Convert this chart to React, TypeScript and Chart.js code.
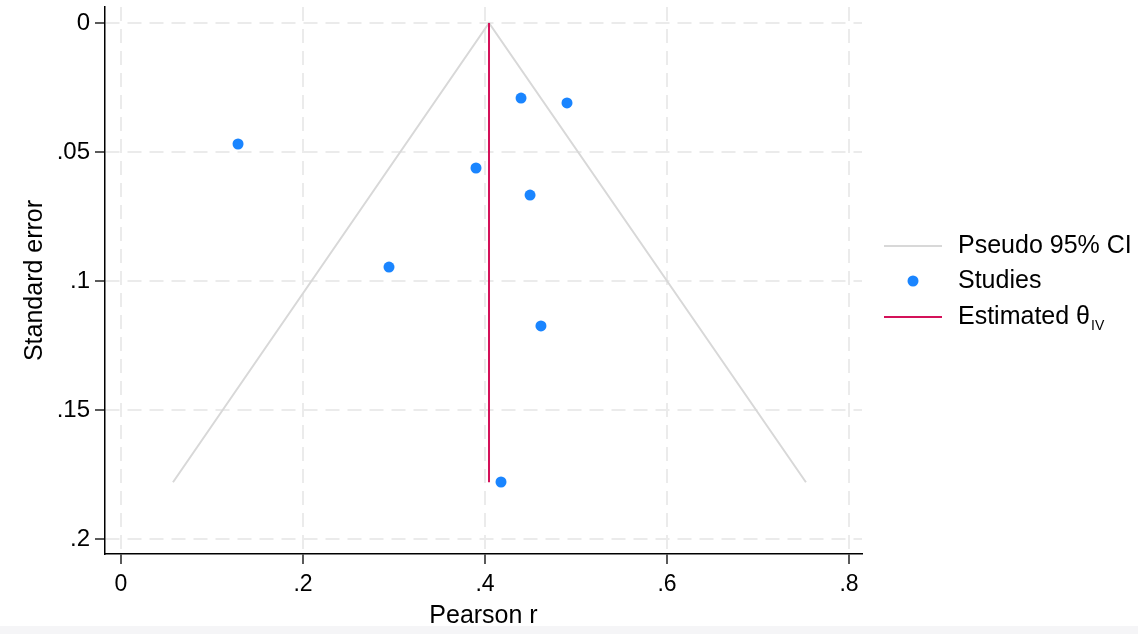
import React, { useEffect, useRef } from "react";
import { Chart, registerables } from "chart.js";
Chart.register(...registerables);

// ---- data ----
const studyR = [0.1286, 0.4396, 0.4901, 0.3901, 0.4495, 0.2945, 0.4615, 0.4176];
const studySE = [0.0469, 0.0291, 0.031, 0.0562, 0.0667, 0.0946, 0.1174, 0.1779];
const funnelR = [0.0571, 0.4044, 0.7527];
const funnelSE = [0.178, 0, 0.178];
const estimateR = [0.4044, 0.4044];
const estimateSE = [0, 0.178];
const xTicks = [0, 0.2, 0.4, 0.6, 0.8];
const xTickLabels = ["0", ".2", ".4", ".6", ".8"];
const yTicks = [0, 0.05, 0.1, 0.15, 0.2];
const yTickLabels = ["0", ".05", ".1", ".15", ".2"];
const legendLabels = ["Pseudo 95% CI", "Studies", "Estimated θ"];
const legendSub = "IV";
const xTitle = "Pearson r";
const yTitle = "Standard error";

const BLUE = "#1a85ff";
const RED = "#d41159";
const GRAY = "#d8d8d8";
const GRID = "#ebebeb";
const FONT = "'Liberation Sans', Arial, Helvetica, sans-serif";

const zip = (xs: number[], ys: number[]) => xs.map((x, i) => ({ x, y: ys[i] }));

const legendPlugin = {
  id: "stataLegend",
  afterDraw(chart: any) {
    const ctx = chart.ctx;
    ctx.save();
    const x0 = 884, x1 = 942, tx = 958;
    const rows = [246, 281, 317];
    ctx.font = `25px ${FONT}`;
    ctx.fillStyle = "#000";
    ctx.textBaseline = "middle";
    ctx.textAlign = "left";
    ctx.strokeStyle = GRAY;
    ctx.lineWidth = 2;
    ctx.beginPath();
    ctx.moveTo(x0, rows[0]);
    ctx.lineTo(x1, rows[0]);
    ctx.stroke();
    ctx.fillStyle = BLUE;
    ctx.beginPath();
    ctx.arc((x0 + x1) / 2, rows[1], 5.5, 0, Math.PI * 2);
    ctx.fill();
    ctx.strokeStyle = RED;
    ctx.lineWidth = 2;
    ctx.beginPath();
    ctx.moveTo(x0, rows[2]);
    ctx.lineTo(x1, rows[2]);
    ctx.stroke();
    ctx.fillStyle = "#000";
    legendLabels.forEach((t, i) => ctx.fillText(t, tx, rows[i]));
    const w = ctx.measureText(legendLabels[2]).width;
    ctx.font = `14px ${FONT}`;
    ctx.fillText(legendSub, tx + w + 1, rows[2] + 9);
    ctx.restore();
  },
};

export default function App() {
  const ref = useRef<HTMLCanvasElement>(null);
  useEffect(() => {
    const chart = new Chart(ref.current as HTMLCanvasElement, {
      type: "scatter",
      data: {
        datasets: [
          {
            label: "Studies",
            data: zip(studyR, studySE),
            backgroundColor: BLUE,
            borderWidth: 0,
            pointRadius: 5.5,
            order: 0,
          },
          {
            label: "Estimated",
            data: zip(estimateR, estimateSE),
            showLine: true,
            borderColor: RED,
            borderWidth: 2,
            pointRadius: 0,
            order: 1,
          },
          {
            label: "Pseudo 95% CI",
            data: zip(funnelR, funnelSE),
            showLine: true,
            borderColor: GRAY,
            borderWidth: 2,
            pointRadius: 0,
            order: 2,
          },
        ],
      },
      options: {
        animation: false,
        responsive: false,
        events: [],
        layout: { padding: { top: 7, right: 276, left: 0, bottom: 0 } },
        plugins: { legend: { display: false }, tooltip: { enabled: false } },
        scales: {
          x: {
            type: "linear",
            min: -0.0176,
            max: 0.8143,
            afterBuildTicks: (s: any) => {
              s.ticks = xTicks.map((v) => ({ value: v }));
            },
            afterFit: (s: any) => {
              s.height = 80;
              s.paddingLeft = 0;
              s.paddingRight = 0;
            },
            ticks: {
              callback: (v: any) => xTickLabels[xTicks.indexOf(v)] ?? "",
              color: "#000",
              font: { family: FONT, size: 23 },
              padding: 7,
              maxRotation: 0,
            },
            grid: {
              color: GRID,
              lineWidth: 2,
              drawTicks: true,
              tickLength: 10,
              tickColor: "#000",
              tickWidth: 1.3,
              tickBorderDash: [],
            } as any,
            border: { display: true, color: "#000", width: 1.5, dash: [14, 8] },
            title: {
              display: true,
              text: xTitle,
              color: "#000",
              font: { family: FONT, size: 25 },
              padding: { top: 0, bottom: 3 },
            },
          },
          y: {
            type: "linear",
            reverse: true,
            min: -0.0062,
            max: 0.2058,
            afterBuildTicks: (s: any) => {
              s.ticks = yTicks.map((v) => ({ value: v }));
            },
            afterFit: (s: any) => {
              s.width = 105;
              s.paddingTop = 0;
              s.paddingBottom = 0;
            },
            ticks: {
              callback: (v: any) => yTickLabels[yTicks.indexOf(v)] ?? "",
              color: "#000",
              font: { family: FONT, size: 24 },
              padding: 5,
            },
            grid: {
              color: GRID,
              lineWidth: 2,
              drawTicks: true,
              tickLength: 10,
              tickColor: "#000",
              tickWidth: 1.3,
              tickBorderDash: [],
            } as any,
            border: { display: true, color: "#000", width: 1.5, dash: [14, 8] },
            title: {
              display: true,
              text: yTitle,
              color: "#000",
              font: { family: FONT, size: 25 },
              padding: { top: 20, bottom: 0 },
            },
          },
        },
      },
      plugins: [legendPlugin],
    } as any);
    return () => chart.destroy();
  }, []);

  return (
    <div style={{ position: "fixed", left: 0, top: 0, width: 1138, height: 634, background: "#fff" }}>
      <canvas ref={ref} width={1138} height={634} style={{ display: "block" }} />
      <div style={{ position: "absolute", left: 0, top: 626, width: 1138, height: 8, background: "#f5f5f7" }} />
    </div>
  );
}
